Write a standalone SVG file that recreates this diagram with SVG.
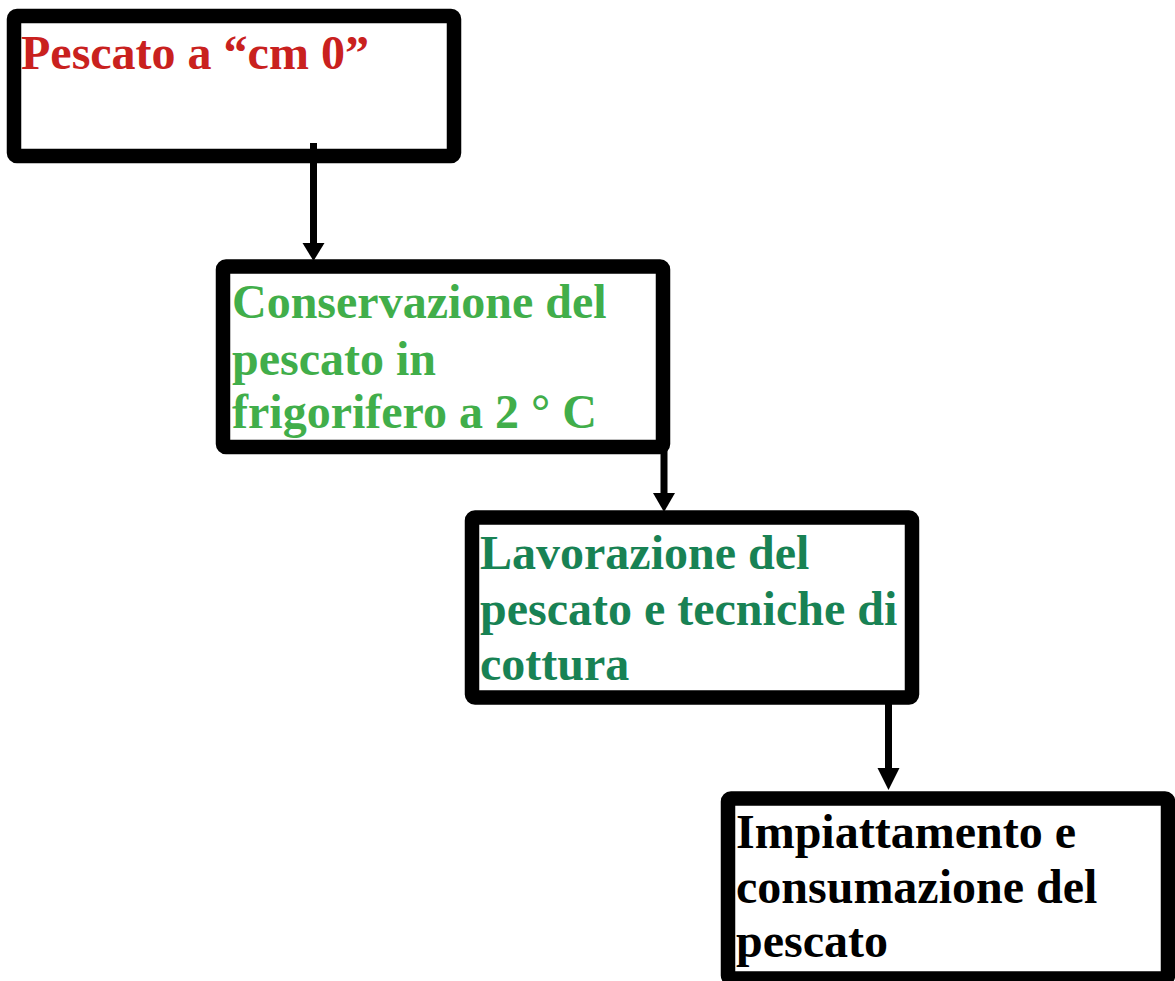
<svg xmlns="http://www.w3.org/2000/svg" width="1175" height="981" viewBox="0 0 1175 981">
<defs>
<style>
.box{fill:#fff;stroke:#000;stroke-width:14.5;stroke-linejoin:round}
.t{font-family:"Liberation Serif","Times New Roman",serif;font-weight:bold;font-size:48px}
.c{stroke:#000;stroke-width:7;fill:none}
</style>
<marker id="ah" markerUnits="userSpaceOnUse" markerWidth="24" markerHeight="18" refX="22" refY="11" orient="auto" viewBox="0 0 22 22">
<path d="M0,0 L22,11 L0,22 Z" fill="#000"/>
</marker>
</defs>
<rect width="1175" height="981" fill="#fff"/>
<g id="n1">
<rect class="box" x="14" y="16" width="440" height="140" rx="3"/>
<text class="t" x="21" y="69" fill="#c9211e">Pescato a “cm 0”</text>
</g>
<g id="n2">
<rect class="box" x="223" y="266.5" width="440" height="180.5" rx="3"/>
<text class="t" fill="#41ae4a"><tspan x="232" y="318">Conservazione del</tspan><tspan x="232" y="375">pescato in</tspan><tspan x="232" y="428">frigorifero a 2 ° C</tspan></text>
</g>
<g id="n3">
<rect class="box" x="472" y="517.5" width="440" height="180" rx="3"/>
<text class="t" fill="#188254"><tspan x="480" y="569">Lavorazione del</tspan><tspan x="480" y="625">pescato e tecniche di</tspan><tspan x="480" y="680">cottura</tspan></text>
</g>
<g id="n4">
<rect class="box" x="728" y="798.5" width="440" height="180" rx="3"/>
<text class="t" fill="#000"><tspan x="736" y="848">Impiattamento e</tspan><tspan x="736" y="903">consumazione del</tspan><tspan x="736" y="957">pescato</tspan></text>
</g>
<g id="connectors">
<line class="c" x1="313.5" y1="143" x2="313.5" y2="246"/>
<path d="M302.5,243 L324.5,243 L313.5,261 Z" fill="#000"/>
<line class="c" x1="664" y1="447" x2="664" y2="496"/>
<path d="M653,493 L675,493 L664,512 Z" fill="#000"/>
<line class="c" x1="888.5" y1="697" x2="888.5" y2="771"/>
<path d="M877.5,768 L899.5,768 L888.5,790 Z" fill="#000"/>
</g>
</svg>
